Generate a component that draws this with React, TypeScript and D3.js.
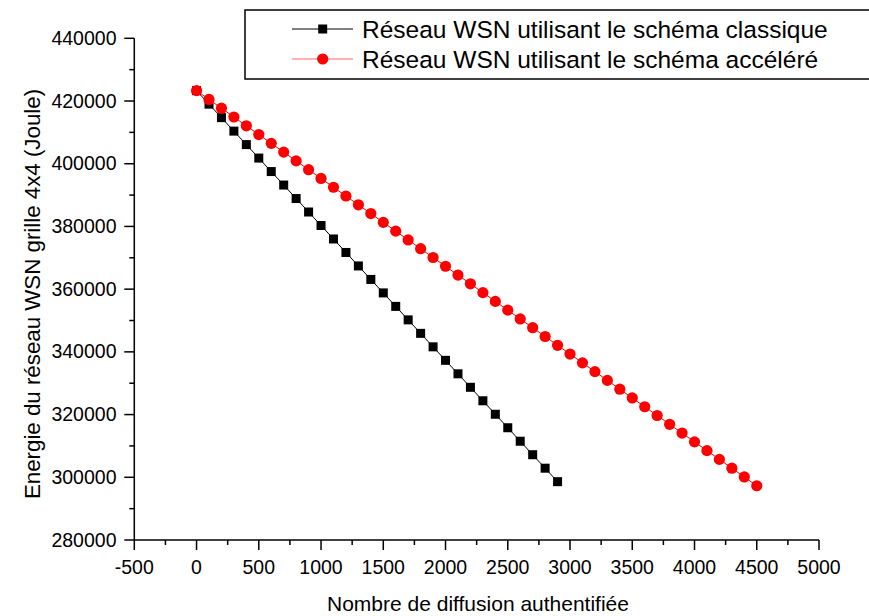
import React from "react";
import * as d3 from "d3";

const xClassic = [0,100,200,300,400,500,600,700,800,900,1000,1100,1200,1300,1400,1500,1600,1700,1800,1900,2000,2100,2200,2300,2400,2500,2600,2700,2800,2900];
const yClassic = [423300,419000,414700,410400,406100,401800,397500,393200,388900,384600,380300,376000,371700,367400,363100,358800,354500,350200,345900,341600,337300,333000,328700,324400,320100,315800,311500,307200,302900,298600];

const xAccel = [0,100,200,300,400,500,600,700,800,900,1000,1100,1200,1300,1400,1500,1600,1700,1800,1900,2000,2100,2200,2300,2400,2500,2600,2700,2800,2900,3000,3100,3200,3300,3400,3500,3600,3700,3800,3900,4000,4100,4200,4300,4400,4500];
const yAccel = [423300,420500,417700,414900,412100,409300,406500,403700,400900,398100,395300,392500,389700,386900,384100,381300,378500,375700,372900,370100,367300,364500,361700,358900,356100,353300,350500,347700,344900,342100,339300,336500,333700,330900,328100,325300,322500,319700,316900,314100,311300,308500,305700,302900,300100,297300];

const xTicks = [-500,0,500,1000,1500,2000,2500,3000,3500,4000,4500,5000];
const xMinor = [-250,250,750,1250,1750,2250,2750,3250,3750,4250,4750];
const yTicks = [280000,300000,320000,340000,360000,380000,400000,420000,440000];
const yMinor = [290000,310000,330000,350000,370000,390000,410000,430000];

const legendLabels = ["Réseau WSN utilisant le schéma classique", "Réseau WSN utilisant le schéma accéléré"];
const xTitle = "Nombre de diffusion authentifiée";
const yTitle = "Energie du réseau WSN grille 4x4 (Joule)";

export default function App() {
  const W = 869, H = 616;
  const x = d3.scaleLinear().domain([-500, 5000]).range([134.3, 819]);
  const y = d3.scaleLinear().domain([280000, 440000]).range([540, 38.3]);
  const font = "'Liberation Sans', Arial, sans-serif";
  const classicPts: [number, number][] = xClassic.map((v, i) => [x(v), y(yClassic[i])]);
  const accelPts: [number, number][] = xAccel.map((v, i) => [x(v), y(yAccel[i])]);
  const path = d3.line();
  const tickFs = 19.5;
  return (
    <svg width={W} height={H} style={{ position: "absolute", left: 0, top: 0, background: "#fff" }} fontFamily={font}>
      <rect width={W} height={H} fill="#fff" />
      {/* axes */}
      <line x1={x(-500)} x2={x(5000)} y1={y(280000)} y2={y(280000)} stroke="#000" strokeWidth={1.5} />
      <line x1={x(-500)} x2={x(-500)} y1={y(280000)} y2={y(440000)} stroke="#000" strokeWidth={1.5} />
      {xTicks.map(t => (
        <g key={"xt" + t}>
          <line x1={x(t)} x2={x(t)} y1={y(280000)} y2={y(280000) + 10} stroke="#000" strokeWidth={1.5} />
          <text x={x(t)} y={573.5} textAnchor="middle" fontSize={tickFs} fill="#000">{t}</text>
        </g>
      ))}
      {xMinor.map(t => (
        <line key={"xm" + t} x1={x(t)} x2={x(t)} y1={y(280000)} y2={y(280000) + 5} stroke="#000" strokeWidth={1.5} />
      ))}
      {yTicks.map(t => (
        <g key={"yt" + t}>
          <line x1={x(-500) - 10} x2={x(-500)} y1={y(t)} y2={y(t)} stroke="#000" strokeWidth={1.5} />
          <text x={116.5} y={y(t) + 6.6} textAnchor="end" fontSize={tickFs} fill="#000">{t}</text>
        </g>
      ))}
      {yMinor.map(t => (
        <line key={"ym" + t} x1={x(-500) - 5} x2={x(-500)} y1={y(t)} y2={y(t)} stroke="#000" strokeWidth={1.5} />
      ))}
      {/* titles */}
      <text x={478} y={611} textAnchor="middle" fontSize={21} fill="#000">{xTitle}</text>
      <text transform={`translate(39.5,${294}) rotate(-90)`} textAnchor="middle" fontSize={22.3} fill="#000">{yTitle}</text>
      {/* classic series */}
      <path d={path(classicPts) || ""} fill="none" stroke="#000" strokeWidth={1} />
      {classicPts.map((p, i) => (
        <rect key={"c" + i} x={p[0] - 4.5} y={p[1] - 4.5} width={9} height={9} fill="#000" />
      ))}
      {/* accelerated series */}
      <path d={path(accelPts) || ""} fill="none" stroke="#ff0000" strokeWidth={1} />
      {accelPts.map((p, i) => (
        <circle key={"a" + i} cx={p[0]} cy={p[1]} r={5.6} fill="#ff0000" />
      ))}
      {/* legend */}
      <rect x={245} y={10} width={640} height={69} fill="#fff" stroke="#000" strokeWidth={1.5} />
      <line x1={292} x2={353} y1={29} y2={29} stroke="#000" strokeWidth={1} />
      <rect x={322.7 - 4.5} y={29 - 4.5} width={9} height={9} fill="#000" />
      <text x={362} y={37.5} fontSize={24.5} fill="#000">{legendLabels[0]}</text>
      <line x1={292} x2={353} y1={59} y2={59} stroke="#ff6666" strokeWidth={1} />
      <circle cx={322.7} cy={59} r={5.6} fill="#ff0000" />
      <text x={362} y={67.5} fontSize={24.5} fill="#000">{legendLabels[1]}</text>
    </svg>
  );
}
